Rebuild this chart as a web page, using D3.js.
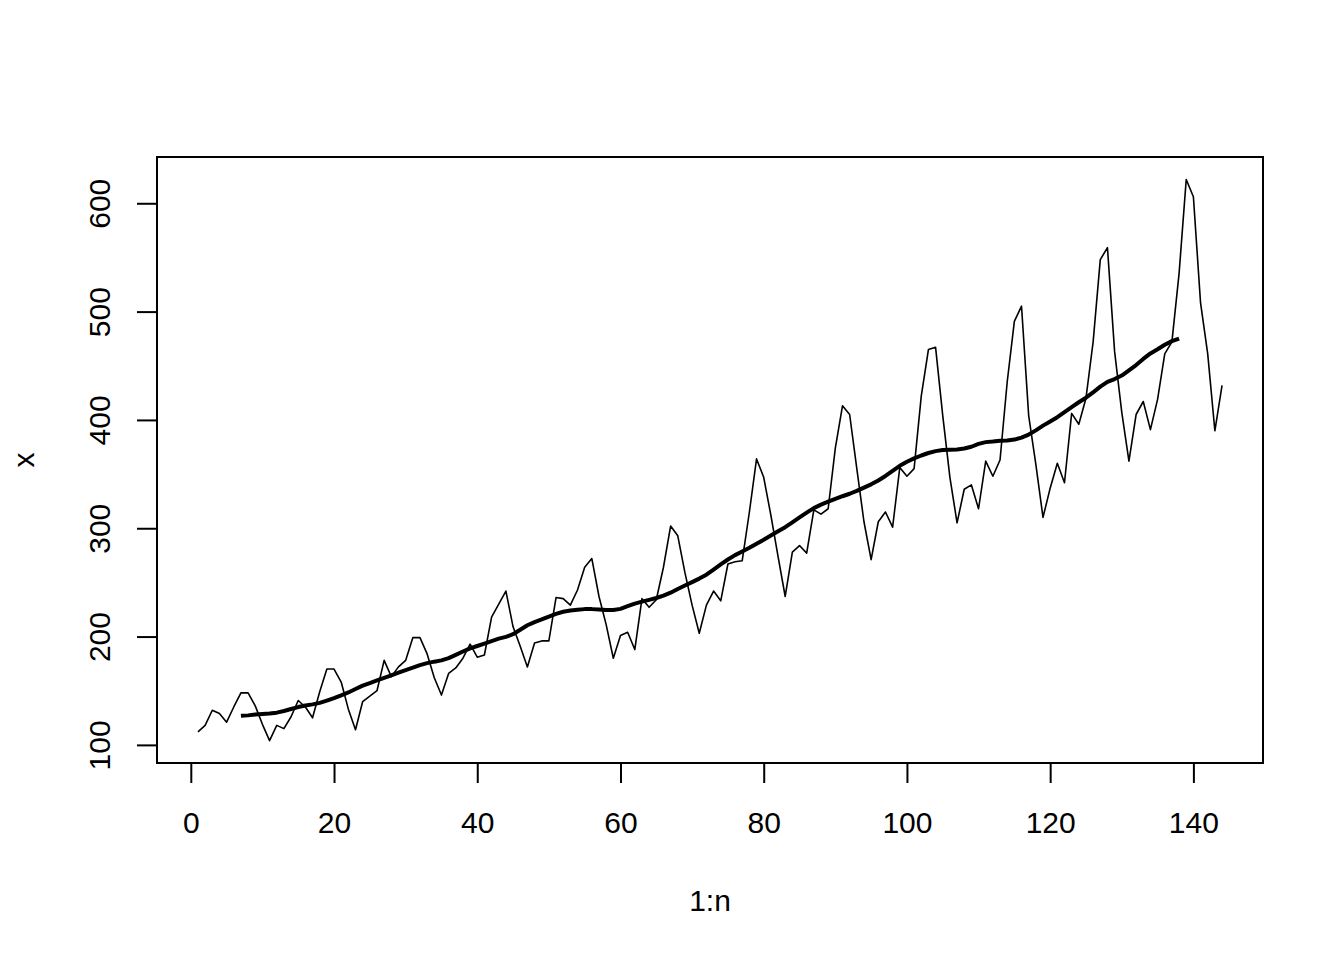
<!DOCTYPE html>
<html>
<head>
<meta charset="utf-8">
<script src="https://cdn.jsdelivr.net/npm/d3@7"></script>
<style>
html, body { margin: 0; padding: 0; background: #fff; }
svg { display: block; }
text { font-family: "Liberation Sans", Arial, sans-serif; fill: #000; }
</style>
</head>
<body>
<svg id="chart" width="1344" height="960"></svg>
<script>
// Monthly airline passengers (thousands), 1949-1960
const passengers = [
  112,118,132,129,121,135,148,148,136,119,104,118,
  115,126,141,135,125,149,170,170,158,133,114,140,
  145,150,178,163,172,178,199,199,184,162,146,166,
  171,180,193,181,183,218,230,242,209,191,172,194,
  196,196,236,235,229,243,264,272,237,211,180,201,
  204,188,235,227,234,264,302,293,259,229,203,229,
  242,233,267,269,270,315,364,347,312,274,237,278,
  284,277,317,313,318,374,413,405,355,306,271,306,
  315,301,356,348,355,422,465,467,404,347,305,336,
  340,318,362,348,363,435,491,505,404,359,310,337,
  360,342,406,396,420,472,548,559,463,407,362,405,
  417,391,419,461,472,535,622,606,508,461,390,432
];
const xTicks = [0, 20, 40, 60, 80, 100, 120, 140];
const yTicks = [100, 200, 300, 400, 500, 600];
const xLabel = "1:n";
const yLabel = "x";
// centered 2x12 moving-average weights (as used by filter() in the original)
const maWeights = [1/24, 1/12, 1/12, 1/12, 1/12, 1/12, 1/12, 1/12, 1/12, 1/12, 1/12, 1/12, 1/24];

const n = passengers.length;
const series = passengers.map((v, i) => ({ t: i + 1, v }));
const half = (maWeights.length - 1) / 2;
const ma = [];
for (let i = half; i < n - half; i++) {
  let s = 0;
  for (let k = 0; k < maWeights.length; k++) s += maWeights[k] * passengers[i - half + k];
  ma.push({ t: i + 1, v: s });
}

const L = 157, R = 1263, T = 157, B = 763;
const xmin = 1, xmax = n;
const ymin = d3.min(passengers), ymax = d3.max(passengers);
const xe = (xmax - xmin) * 0.04, ye = (ymax - ymin) * 0.04;
const x = d3.scaleLinear().domain([xmin - xe, xmax + xe]).range([L, R]);
const y = d3.scaleLinear().domain([ymin - ye, ymax + ye]).range([B, T]);

const svg = d3.select("#chart");
const FS = 30;

// plot box
svg.append("rect").attr("x", L).attr("y", T).attr("width", R - L).attr("height", B - T)
  .attr("fill", "none").attr("stroke", "#000").attr("stroke-width", 2);

// x axis
const xAxis = svg.append("g").attr("transform", `translate(0,${B})`)
  .call(d3.axisBottom(x).tickValues(xTicks).tickSize(20).tickPadding(29).tickSizeOuter(0));
xAxis.select(".domain").attr("d", `M${x(xTicks[0])},0H${x(xTicks[xTicks.length-1])}`).attr("stroke-width", 2);
xAxis.selectAll(".tick line").attr("stroke-width", 2);
xAxis.selectAll(".tick text").attr("font-size", FS).attr("font-family", "Liberation Sans, Arial, sans-serif").attr("fill", "#000").attr("dy", "0.71em");

// y axis
const yAxis = svg.append("g").attr("transform", `translate(${L},0)`)
  .call(d3.axisLeft(y).tickValues(yTicks).tickSize(20).tickSizeOuter(0));
yAxis.select(".domain").attr("d", `M0,${y(yTicks[0])}V${y(yTicks[yTicks.length-1])}`).attr("stroke-width", 2);
yAxis.selectAll(".tick line").attr("stroke-width", 2);
yAxis.selectAll(".tick text")
  .attr("font-size", FS).attr("font-family", "Liberation Sans, Arial, sans-serif").attr("fill", "#000")
  .attr("x", null).attr("dy", null)
  .attr("text-anchor", "middle")
  .attr("transform", "translate(-47,0) rotate(-90)")
  .attr("y", 0).attr("dominant-baseline", "auto");

// axis titles
svg.append("text").attr("x", (L + R) / 2).attr("y", 911).attr("text-anchor", "middle")
  .attr("font-size", FS).text(xLabel);
svg.append("text").attr("transform", `translate(34,${(T + B) / 2}) rotate(-90)`)
  .attr("text-anchor", "middle").attr("font-size", FS).text(yLabel);

const line = d3.line().x(d => x(d.t)).y(d => y(d.v));
svg.append("path").datum(series).attr("d", line)
  .attr("fill", "none").attr("stroke", "#000").attr("stroke-width", 1.6).attr("stroke-linejoin", "round");
svg.append("path").datum(ma).attr("d", line)
  .attr("fill", "none").attr("stroke", "#000").attr("stroke-width", 4).attr("stroke-linejoin", "round");
</script>
</body>
</html>
